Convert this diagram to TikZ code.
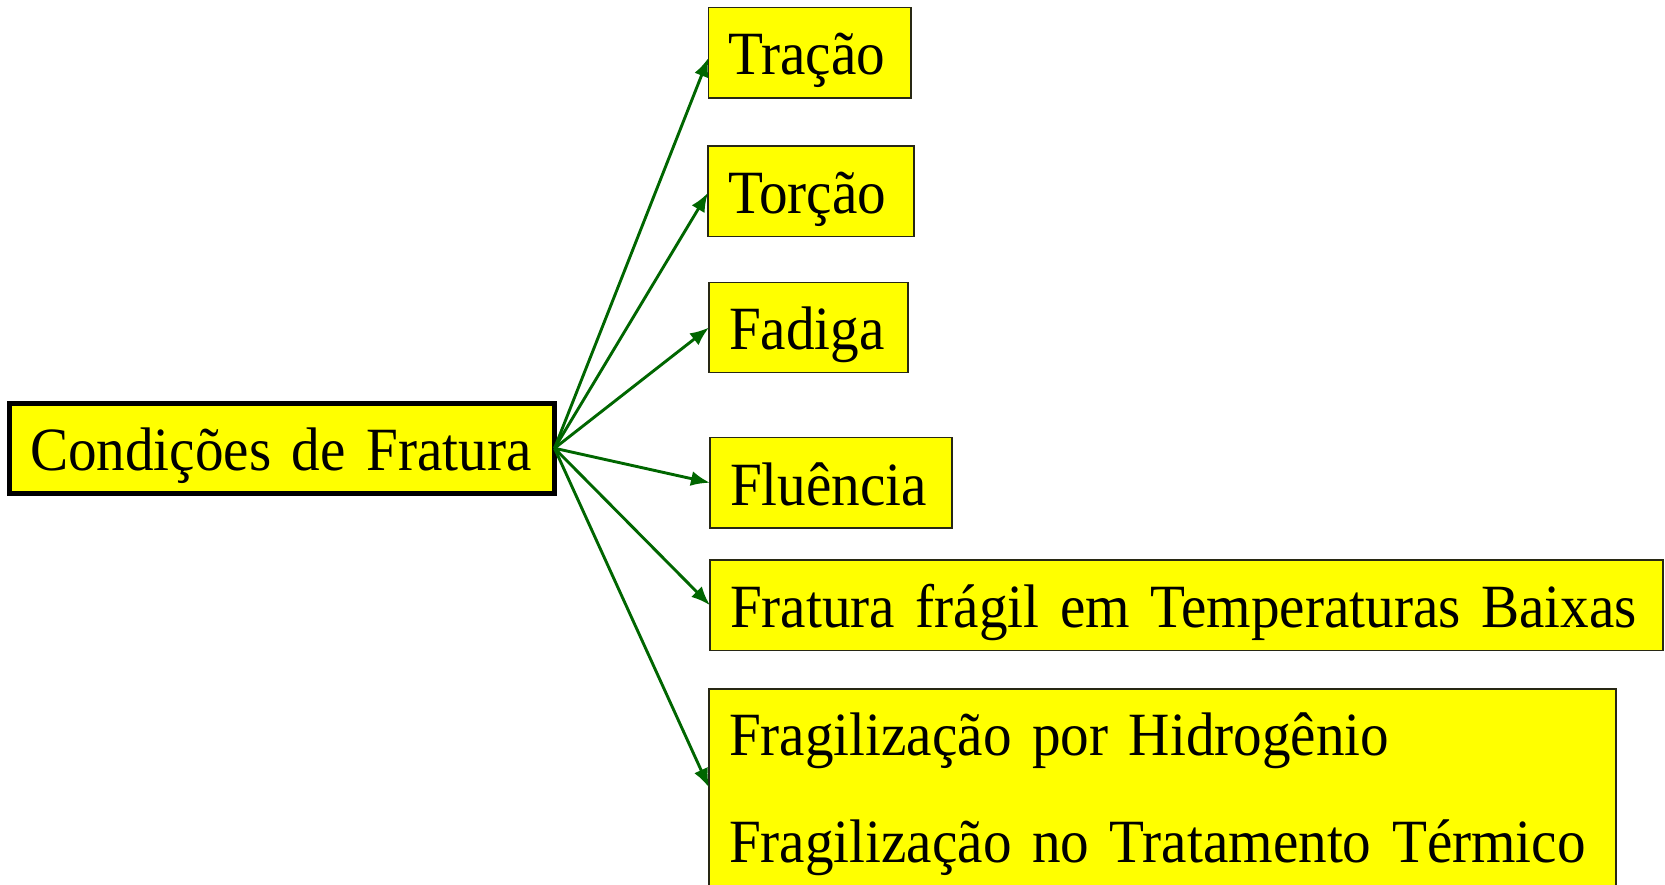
\documentclass[tikz,border=0pt]{standalone}
\usepackage{fontspec}
\setmainfont[FakeStretch=0.93]{Liberation Serif}
\usetikzlibrary{arrows.meta}
\definecolor{boxyellow}{RGB}{255,255,0}
\definecolor{arrowgreen}{RGB}{0,102,0}
\definecolor{boxline}{RGB}{40,40,20}
\begin{document}
\begin{tikzpicture}[x=1pt,y=-1pt,
  box/.style={draw=boxline, line width=1.2pt, fill=boxyellow, anchor=north west,
    inner xsep=20pt, inner ysep=0pt, outer sep=0pt, align=left,
    font=\fontsize{61.5}{107}\selectfont},
  conn/.style={draw=arrowgreen, line width=2.9pt, -{Latex[length=19pt,width=15pt]}}]
\useasboundingbox (0,0) rectangle (1665,884);
\node[box, draw=black, line width=5pt, inner xsep=20.5pt, text width=504pt, text height=67pt, text depth=23.5pt] (main) at (9.5,403) {\mbox{Condições de Fratura}};
\node[box, text width=162.5pt, text height=66.5pt, text depth=24pt] (tracao) at (708.5,7.5) {\mbox{Tração}};
\node[box, text width=166pt, text height=67pt, text depth=23.5pt] (torcao) at (708,146) {\mbox{Torção}};
\node[box, text width=159pt, text height=66.5pt, text depth=23.5pt] (fadiga) at (709,282.5) {\mbox{Fadiga}};
\node[box, text width=202pt, text height=67.5pt, text depth=23pt] (fluencia) at (710,437.5) {\mbox{Fluência}};
\node[box, text width=913pt, text height=67pt, text depth=23.5pt] (fratura) at (710,560) {\mbox{Fratura frágil em Temperaturas Baixas}};
\node[box, text width=867pt, text height=66pt, text depth=131pt] (fragil) at (709,689) {\mbox{Fragilização por Hidrogênio}\\\mbox{Fragilização no Tratamento Térmico}};
\draw[conn] (main.east) -- ([yshift=-5pt]tracao.west);
\draw[conn] (main.east) -- ([yshift=-1.5pt]torcao.west);
\foreach \t in {fadiga,fluencia,fratura,fragil}
  \draw[conn] (main.east) -- (\t.west);
\end{tikzpicture}
\end{document}
